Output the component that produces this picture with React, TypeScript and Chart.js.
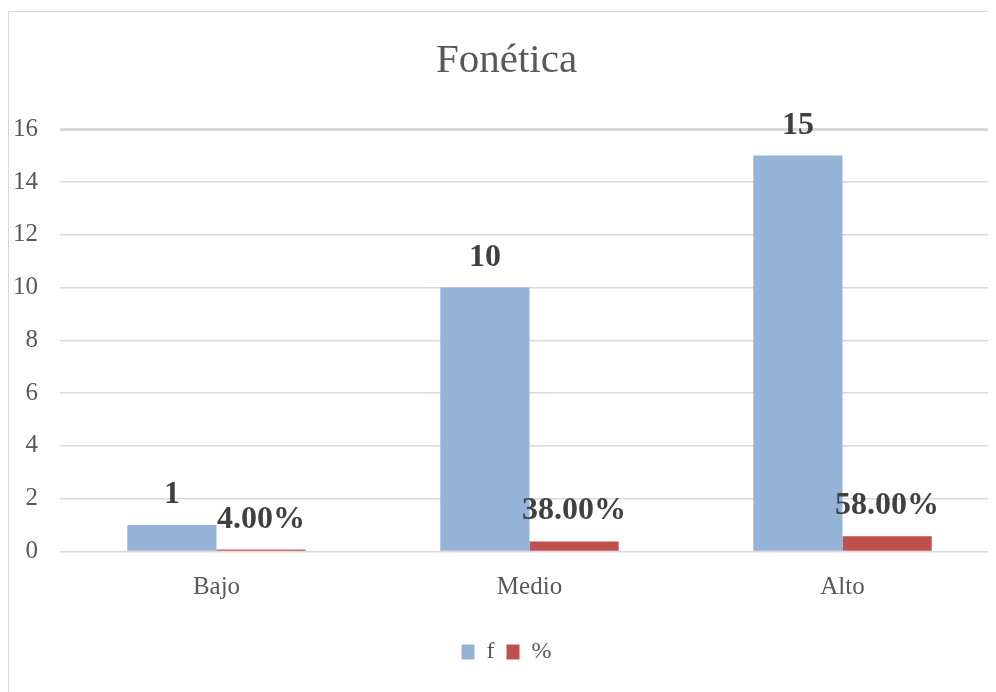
import React, { useEffect, useRef } from "react";
import { Chart, registerables } from "chart.js";

Chart.register(...registerables);

const categories = ["Bajo", "Medio", "Alto"];
const fValues = [1, 10, 15];
const pctValues = [0.04, 0.38, 0.58];
const yTicks = [0, 2, 4, 6, 8, 10, 12, 14, 16];
const titleText = "Fonética";
const seriesNames = ["f", "%"];

const FONT = "'Liberation Serif', 'DejaVu Serif', serif";

const labelPlugin = {
  id: "barLabels",
  afterDatasetsDraw(chart: any) {
    const ctx = chart.ctx;
    ctx.save();
    ctx.font = `bold 32px ${FONT}`;
    ctx.fillStyle = "#404040";
    ctx.textAlign = "center";
    ctx.textBaseline = "alphabetic";
    chart.data.datasets.forEach((ds: any, di: number) => {
      const meta = chart.getDatasetMeta(di);
      meta.data.forEach((el: any, i: number) => {
        const v = ds.data[i];
        const txt = di === 0 ? String(v) : (v * 100).toFixed(2) + "%";
        ctx.fillText(txt, el.x, el.y - 22);
      });
    });
    ctx.restore();
  },
};

export default function App() {
  const ref = useRef<HTMLCanvasElement>(null);
  useEffect(() => {
    document.body.style.overflow = "hidden";
    const chart = new Chart(ref.current as HTMLCanvasElement, {
      type: "bar",
      data: {
        labels: categories,
        datasets: [
          {
            label: seriesNames[0],
            data: fValues,
            backgroundColor: "#95B3D7",
            borderWidth: 0,
            categoryPercentage: 0.57,
            barPercentage: 1,
          },
          {
            label: seriesNames[1],
            data: pctValues,
            backgroundColor: "#C0504D",
            borderWidth: 0,
            minBarLength: 2,
            categoryPercentage: 0.57,
            barPercentage: 1,
          },
        ],
      },
      options: {
        animation: false,
        responsive: false,
        layout: { padding: { left: 5, right: 10, top: 0, bottom: 18 } },
        plugins: {
          title: {
            display: true,
            text: titleText,
            color: "#595959",
            font: { family: FONT, size: 41, weight: "normal" },
            padding: { top: 25, bottom: 43 },
          },
          legend: {
            position: "bottom",
            labels: {
              color: "#595959",
              font: { family: FONT, size: 24 },
              boxWidth: 13,
              boxHeight: 15,
              padding: 12,
            },
          },
          tooltip: { enabled: false },
        },
        scales: {
          x: {
            grid: { display: false, drawTicks: false },
            border: { display: false },
            ticks: {
              color: "#595959",
              font: { family: FONT, size: 25 },
              padding: 21,
            },
            afterFit: (s: any) => {
              s.height = 76.5;
            },
          },
          y: {
            min: 0,
            max: 16,
            afterBuildTicks: (s: any) => {
              s.ticks = yTicks.map((v) => ({ value: v }));
            },
            grid: {
              color: "#D9D9D9",
              drawTicks: false,
              lineWidth: (c: any) => (c.tick && c.tick.value === 16 ? 3 : 1.5),
            },
            border: { display: false },
            ticks: {
              color: "#595959",
              font: { family: FONT, size: 25 },
              padding: 22,
            },
            afterFit: (s: any) => {
              s.width = 46;
            },
          },
        },
      },
      plugins: [labelPlugin],
    } as any);
    return () => chart.destroy();
  }, []);

  return (
    <div style={{ position: "relative", width: 988, height: 684, overflow: "hidden" }}>
      <div
        style={{
          position: "absolute",
          left: 0,
          top: 3,
          width: 1000,
          height: 680,
          border: "1px solid #D9D9D9",
          background: "#fff",
        }}
      >
        <canvas ref={ref} width={1000} height={680} style={{ display: "block" }} />
      </div>
    </div>
  );
}
